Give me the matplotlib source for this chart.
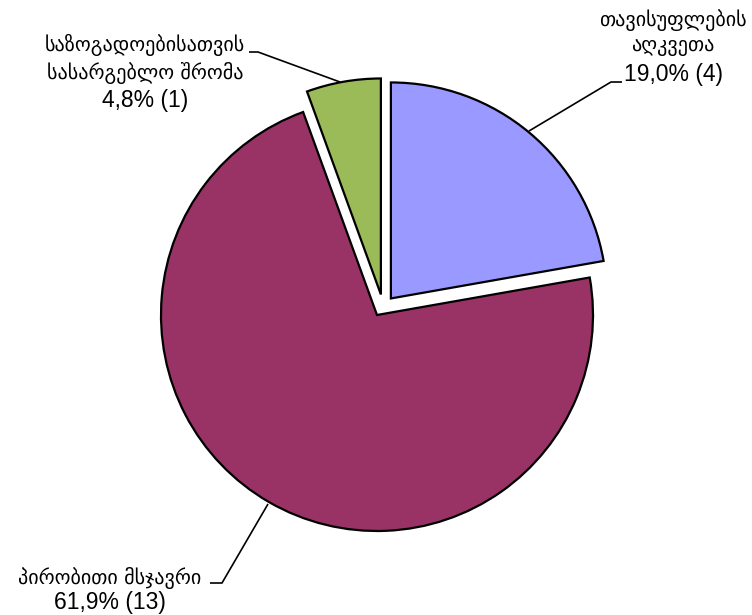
import matplotlib
matplotlib.use("Agg")
import matplotlib.pyplot as plt

labels = ["თავისუფლების\nაღკვეთა", "პირობითი მსჯავრი", "საზოგადოებისათვის\nსასარგებლო შრომა"]
counts = [4, 13, 1]
percents = ["19,0%", "61,9%", "4,8%"]
colors = ["#9999FF", "#993366", "#9BBB59"]
explode = [0.1, 0.0, 0.0]

W, H = 752, 615
CX, CY, R = 377, 315, 216  # pie centre and radius in pixels


def px(x, y):
    # pixel (from top-left) -> data coordinates
    return (x - CX) / R, (CY - y) / R


fig = plt.figure(figsize=(W / 100, H / 100), dpi=100)
ax = fig.add_axes([0, 0, 1, 1])

wedges, _ = ax.pie(counts, colors=colors, explode=explode, startangle=90, counterclock=False,
                   radius=1.0, wedgeprops=dict(edgecolor="black", linewidth=1.6))
# the small slice is pulled out almost straight up
wedges[2].set_center((0.018, 0.095))
ax.set_xlim(-CX / R, (W - CX) / R)
ax.set_ylim(-(H - CY) / R, CY / R)
ax.axis("off")

geo = dict(family=["DejaVu Sans"], fontsize=14.5, ha="center", va="center")
num = dict(family=["Liberation Sans", "DejaVu Sans"], fontsize=16.5, ha="center", va="center")

# label positions: (centre x, first line y, line step) in pixels
spots = [(673, 20, 27), (110, 578, 25), (145, 45, 28)]
for lab, p, c, (x, y, step) in zip(labels, percents, counts, spots):
    lines = lab.split("\n")
    for i, ln in enumerate(lines):
        ax.text(*px(x, y + i * step), ln, **geo)
    ax.text(*px(x, y + len(lines) * step), f"{p} ({c})", **num)

# leader lines
leaders = [
    [(622, 82), (611, 82), (529, 131)],
    [(210, 583), (222, 583), (268, 504)],
    [(249, 52), (258, 52), (340, 82)],
]
for pts in leaders:
    xs, ys = zip(*[px(*p) for p in pts])
    ax.plot(xs, ys, color="black", linewidth=1.2, solid_capstyle="butt")

fig.savefig("out.png", dpi=100)
